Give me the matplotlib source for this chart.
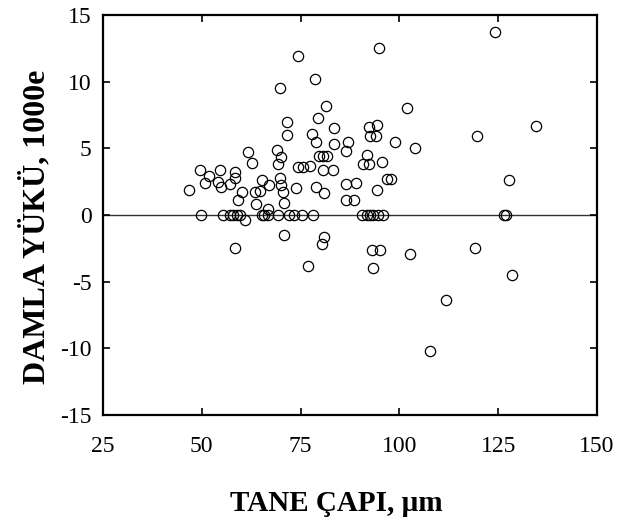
import matplotlib
matplotlib.use("Agg")
import matplotlib.pyplot as plt
import numpy as np

# ------------------------
# Data
# ------------------------
# particle diameter (um) and droplet charge (x1000 e)
cap_above = [46.7, 49.6, 50.8, 51.9, 54.6, 54.2, 54.9, 57.1, 58.3, 58.3,
             61.8, 62.6, 60.1, 59.2, 63.5, 64.8, 65.2, 67.0, 63.7, 66.8,
             69.8, 74.3, 78.6, 81.5, 71.5, 79.5, 71.5, 78.0, 78.9, 69.0,
             70.1, 69.3, 69.8, 70.1, 70.5, 70.7, 74.4, 75.5, 77.5, 73.8,
             78.9, 80.8, 79.7, 80.7, 81.8, 80.7, 83.2, 83.5, 83.5, 87.1,
             86.4, 86.5, 89.1, 86.6, 88.5, 92.4, 94.4, 92.5, 94.0, 91.7,
             90.7, 92.2, 95.7, 96.8, 98.0, 94.4, 94.9, 101.8, 98.8, 103.9,
             119.6, 134.6, 124.1, 127.7]
yuk_above = [1.9, 3.4, 2.4, 2.9, 3.4, 2.5, 2.1, 2.3, 3.2, 2.8,
             4.7, 3.9, 1.7, 1.1, 1.7, 1.8, 2.6, 2.25, 0.8, 0.45,
             9.5, 11.9, 10.2, 8.2, 7.0, 7.3, 6.0, 6.1, 5.45, 4.85,
             4.35, 3.85, 2.8, 2.25, 1.75, 0.9, 3.6, 3.6, 3.7, 2.0,
             2.1, 1.65, 4.4, 4.45, 4.45, 3.4, 3.4, 6.5, 5.3, 5.5,
             4.8, 2.35, 2.4, 1.1, 1.1, 6.6, 6.75, 5.9, 5.9, 4.5,
             3.8, 3.8, 3.95, 2.7, 2.7, 1.9, 12.5, 8.0, 5.5, 5.05,
             5.9, 6.7, 13.7, 2.6]

cap_zero = [49.8, 55.4, 57.1, 58.0, 58.8, 59.8, 60.9, 65.2, 65.7, 66.8,
            69.4, 72.0, 73.4, 75.3, 78.2, 90.6, 91.7, 92.6, 93.4, 94.7,
            95.9, 126.4, 126.9]
yuk_zero = [0, 0, 0, 0, 0, 0, -0.4, 0, 0, 0,
            0, 0, 0, 0, 0, 0, 0, 0, 0, 0,
            0, 0, 0]

cap_below = [58.3, 70.8, 81.0, 80.4, 76.8, 93.0, 95.2, 93.2, 102.7, 119.1,
             128.6, 111.8, 107.7]
yuk_below = [-2.45, -1.5, -1.65, -2.2, -3.8, -2.6, -2.6, -3.95, -2.9, -2.45,
             -4.5, -6.4, -10.2]

x = np.array(cap_above + cap_zero + cap_below)
y = np.array(yuk_above + yuk_zero + yuk_below)

xticks = [25, 50, 75, 100, 125, 150]
yticks = [-15, -10, -5, 0, 5, 10, 15]

# ------------------------
# Plot
# ------------------------
plt.rcParams["font.family"] = ["Liberation Serif", "DejaVu Serif"]
plt.rcParams["axes.unicode_minus"] = False

fig = plt.figure(figsize=(6.2, 5.3), dpi=100)
ax = fig.add_axes([0.166, 0.217, 0.797, 0.755])

ax.axhline(0, color="#333333", lw=1.0, zorder=1)
ax.plot(x, y, "o", ms=7.4, mfc="none", mec="black", mew=0.9, zorder=2)

ax.set_xlim(25, 150)
ax.set_ylim(-15, 15)
ax.set_xticks(xticks)
ax.set_yticks(yticks)

for s in ax.spines.values():
    s.set_linewidth(1.6)

ax.tick_params(direction="in", top=True, right=True, length=5, width=1.2,
               labelsize=17)
ax.tick_params(axis="x", pad=15)
ax.tick_params(axis="y", pad=8)

ax.set_xlabel("TANE ÇAPI, µm", fontsize=21, fontweight="bold", va="center")
ax.set_ylabel("DAMLA YÜKÜ, 1000e", fontsize=23, fontweight="bold", va="center")
ax.xaxis.set_label_coords(0.472, -0.22)
ax.yaxis.set_label_coords(-0.136, 0.47)

plt.savefig("out.png", dpi=100)
